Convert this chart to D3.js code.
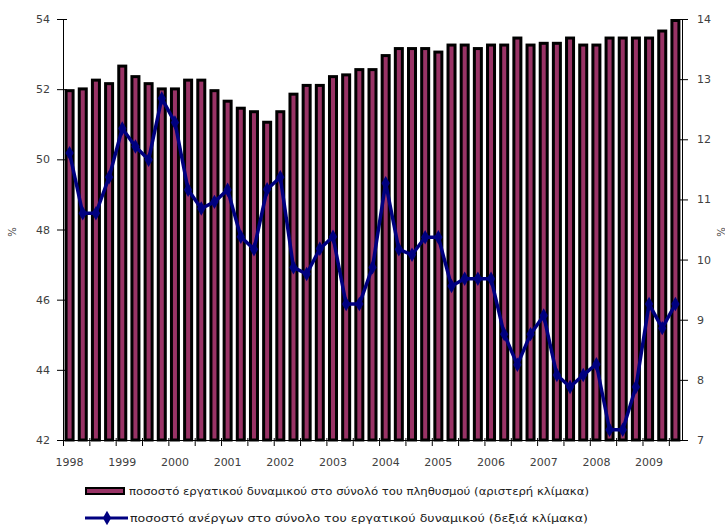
<!DOCTYPE html>
<html>
<head>
<meta charset="utf-8">
<script src="https://cdn.jsdelivr.net/npm/d3@7/dist/d3.min.js"></script>
<style>
  body { margin: 0; background: #fff; }
  svg { display: block; font-family: "DejaVu Sans", Verdana, sans-serif; }
  .axis { font-family: "DejaVu Sans", Verdana, sans-serif; }
  .axis text { fill: #404040; font-size: 11px; }
  .axis path, .axis line { stroke: #000; }
</style>
</head>
<body>
<div id="chart"></div>
<script>
'use strict'

// quarterly data, 1998Q1 .. 2009Q3
const years = ['1998', '1999', '2000', '2001', '2002', '2003', '2004', '2005', '2006', '2007', '2008', '2009']
const quarters = years.flatMap(y => ['Q1', 'Q2', 'Q3', 'Q4'].map(q => y + q)).slice(0, 47)

// labour force as % of population (left scale)
const labourForce = [
  52.0, 52.05, 52.3, 52.2, 52.7, 52.4, 52.2, 52.05,
  52.05, 52.3, 52.3, 52.0, 51.7, 51.5, 51.4, 51.1,
  51.4, 51.9, 52.15, 52.15, 52.4, 52.45, 52.6, 52.6,
  53.0, 53.2, 53.2, 53.2, 53.1, 53.3, 53.3, 53.2,
  53.3, 53.3, 53.5, 53.3, 53.35, 53.35, 53.5, 53.3,
  53.3, 53.5, 53.5, 53.5, 53.5, 53.7, 54.0
]

// unemployment rate as % of labour force (right scale)
const unemployment = [
  11.77, 10.77, 10.77, 11.37, 12.18, 11.88, 11.66, 12.68,
  12.28, 11.16, 10.85, 10.96, 11.16, 10.38, 10.17, 11.17,
  11.37, 9.87, 9.76, 10.18, 10.38, 9.26, 9.26, 9.87,
  11.27, 10.17, 10.08, 10.37, 10.37, 9.56, 9.68, 9.68,
  9.68, 8.76, 8.25, 8.76, 9.07, 8.08, 7.88, 8.08,
  8.26, 7.17, 7.17, 7.88, 9.26, 8.86, 9.26
]

const leftTicks = [42, 44, 46, 48, 50, 52, 54]
const rightTicks = [7, 8, 9, 10, 11, 12, 13, 14]

const legendLabels = [
  'ποσοστό εργατικού δυναμικού στο σύνολό του πληθυσμού (αριστερή κλίμακα)',
  'ποσοστό ανέργων στο σύνολο του εργατικού δυναμικού (δεξιά κλίμακα)'
]

const W = 725, H = 525
const margin = { left: 63, right: 682, top: 19, bottom: 440 }

const svg = d3.select('#chart').append('svg')
  .attr('width', W)
  .attr('height', H)

const x = d3.scaleBand()
  .domain(quarters)
  .range([margin.left, margin.right])
  .paddingInner(0.24)
  .paddingOuter(0.12)

// boundaries between categories, for tick marks
const xEdge = d3.scaleLinear()
  .domain([0, quarters.length])
  .range([margin.left, margin.right])

const yL = d3.scaleLinear().domain([42, 54]).range([margin.bottom, margin.top])
const yR = d3.scaleLinear().domain([7, 14]).range([margin.bottom, margin.top])

// bars
const bw = x.bandwidth()
svg.append('g')
  .selectAll('rect')
  .data(labourForce)
  .join('rect')
    .attr('x', (d, i) => x(quarters[i]) + 1.5)
    .attr('y', d => yL(d) + 1.5)
    .attr('width', bw - 3)
    .attr('height', d => yL(42) - yL(d) - 1.5)
    .style('fill', '#993366')
    .style('stroke', '#000')
    .style('stroke-width', 3)

// unemployment line
const cx = i => x(quarters[i]) + bw / 2
const line = d3.line()
  .x((d, i) => cx(i))
  .y(d => yR(d))

svg.append('path')
  .datum(unemployment)
  .attr('d', line)
  .style('fill', 'none')
  .style('stroke', '#000080')
  .style('stroke-width', 3.5)
  .style('stroke-linejoin', 'round')

const diamond = d3.symbol().type(d3.symbolDiamond).size(60)
svg.append('g')
  .selectAll('path')
  .data(unemployment)
  .join('path')
    .attr('d', diamond)
    .attr('transform', (d, i) => `translate(${cx(i)},${yR(d)})`)
    .style('fill', '#000080')

// left axis
const gL = svg.append('g')
  .attr('class', 'axis')
  .attr('transform', `translate(${margin.left},0)`)
  .call(d3.axisLeft(yL).tickValues(leftTicks).tickSize(5).tickSizeOuter(0).tickPadding(8))
gL.selectAll('.tick line').attr('x2', -6).attr('x1', 4)

// right axis
const gR = svg.append('g')
  .attr('class', 'axis')
  .attr('transform', `translate(${margin.right},0)`)
  .call(d3.axisRight(yR).tickValues(rightTicks).tickFormat(d3.format('d')).tickSize(5).tickSizeOuter(0).tickPadding(10))
gR.selectAll('.tick line').attr('x1', -4).attr('x2', 6)

// bottom axis: tick marks every two quarters, year labels under Q1
const gB = svg.append('g')
  .attr('class', 'axis')
  .attr('transform', `translate(0,${margin.bottom})`)
  .call(d3.axisBottom(xEdge).tickValues(d3.range(0, quarters.length, 2)).tickFormat('').tickSize(6).tickSizeOuter(0))
gB.selectAll('.tick line').attr('y1', -2)
gB.select('.domain').attr('d', `M${margin.left},0.5H${margin.right}`)

svg.append('g')
  .attr('class', 'axis')
  .attr('transform', `translate(0,${margin.bottom})`)
  .call(d3.axisBottom(x)
    .tickValues(quarters.filter(q => q.endsWith('Q1')))
    .tickFormat(q => q.slice(0, 4))
    .tickSize(0)
    .tickPadding(18))
  .call(g => g.select('.domain').remove())

// axis titles
svg.append('text')
  .attr('transform', 'translate(16,232) rotate(-90)')
  .attr('text-anchor', 'middle')
  .style('font-size', '10px')
  .style('fill', '#404040')
  .text('%')

svg.append('text')
  .attr('transform', 'translate(717,232) rotate(90)')
  .attr('text-anchor', 'middle')
  .style('font-size', '10px')
  .style('fill', '#404040')
  .text('%')

// legend
const leg = svg.append('g')

leg.append('rect')
  .attr('x', 86).attr('y', 488)
  .attr('width', 38).attr('height', 6)
  .style('fill', '#993366')
  .style('stroke', '#000')
  .style('stroke-width', 2)

leg.append('line')
  .attr('x1', 85).attr('x2', 128)
  .attr('y1', 518).attr('y2', 518)
  .style('stroke', '#000080')
  .style('stroke-width', 3)

leg.append('path')
  .attr('d', diamond)
  .attr('transform', 'translate(107,518)')
  .style('fill', '#000080')

leg.selectAll('text.lbl')
  .data(legendLabels)
  .join('text')
    .attr('class', 'lbl')
    .attr('x', (d, i) => i ? 130 : 129)
    .attr('y', (d, i) => i ? 521.5 : 495)
    .attr('textLength', (d, i) => i ? 458 : 460)
    .attr('lengthAdjust', 'spacingAndGlyphs')
    .style('font-size', '10px')
    .style('fill', '#202020')
    .text(d => d)
</script>
</body>
</html>
